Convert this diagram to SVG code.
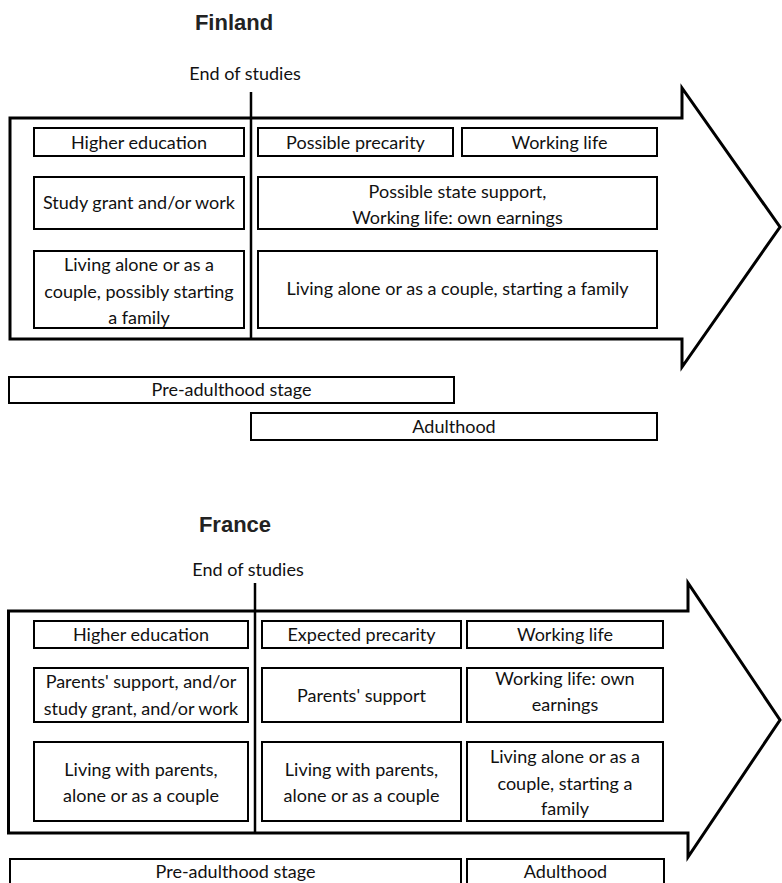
<svg xmlns="http://www.w3.org/2000/svg" width="782" height="883" viewBox="0 0 782 883">
<style>
.bg{fill:#fff}
.arrow{fill:#fff;stroke:#000;stroke-width:3;stroke-linejoin:miter}
.div{stroke:#000;stroke-width:2.5;fill:none}
.box{fill:#fff;stroke:#000;stroke-width:2}
.t{font-family:Lato,"Liberation Sans",sans-serif;font-size:18px;fill:#111;text-anchor:middle}
.h{font-family:"Liberation Sans",Arial,sans-serif;font-weight:bold;font-size:22px;fill:#222;text-anchor:middle}
</style>
<rect class="bg" x="0" y="0" width="782" height="883"/>

<!-- Finland -->
<text id="fi-title" class="h" x="234" y="30">Finland</text>
<g id="fi-arrow"><polygon class="arrow" points="10,118 682,118 682,88 780,227 682,367 682,339 10,339"/></g>
<g id="fi-end"><text class="t" x="245" y="80">End of studies</text></g>
<g id="fi-he"><rect class="box" x="34" y="128" width="210" height="28"/><text class="t" x="139" y="149">Higher education</text></g>
<g id="fi-pp"><rect class="box" x="258" y="128" width="195" height="28"/><text class="t" x="355.5" y="149">Possible precarity</text></g>
<g id="fi-wl"><rect class="box" x="462" y="128" width="195" height="28"/><text class="t" x="559.5" y="149">Working life</text></g>
<g id="fi-sg"><rect class="box" x="34" y="177" width="210" height="52"/><text class="t" x="139" y="209">Study grant and/or work</text></g>
<g id="fi-ss"><rect class="box" x="258" y="177" width="399" height="52"/><text class="t" x="457.5" y="198">Possible state support,</text><text class="t" x="457.5" y="224">Working life: own earnings</text></g>
<g id="fi-la"><rect class="box" x="34" y="251" width="210" height="77"/><text class="t" x="139" y="271">Living alone or as a</text><text class="t" x="139" y="298">couple, possibly starting</text><text class="t" x="139" y="324">a family</text></g>
<g id="fi-lf"><rect class="box" x="258" y="251" width="399" height="77"/><text class="t" x="457.5" y="295">Living alone or as a couple, starting a family</text></g>
<g id="fi-pre"><rect class="box" x="9" y="377" width="445" height="26"/><text class="t" x="231.5" y="396">Pre-adulthood stage</text></g>
<g id="fi-ad"><rect class="box" x="251" y="413" width="406" height="27"/><text class="t" x="454" y="433">Adulthood</text></g>

<!-- France -->
<text id="fr-title" class="h" x="235" y="532">France</text>
<g id="fr-arrow"><polygon class="arrow" points="8.5,611 688,611 688,583 780,720 688,857 688,833 8.5,833"/></g>
<g id="fr-end"><text class="t" x="248" y="576">End of studies</text></g>
<g id="fr-he"><rect class="box" x="34" y="621" width="214" height="27"/><text class="t" x="141" y="641">Higher education</text></g>
<g id="fr-ep"><rect class="box" x="262" y="621" width="199" height="27"/><text class="t" x="361.5" y="641">Expected precarity</text></g>
<g id="fr-wl"><rect class="box" x="467" y="621" width="196" height="27"/><text class="t" x="565" y="641">Working life</text></g>
<g id="fr-ps1"><rect class="box" x="34" y="668" width="214" height="54"/><text class="t" x="141" y="688">Parents' support, and/or</text><text class="t" x="141" y="715">study grant, and/or work</text></g>
<g id="fr-ps2"><rect class="box" x="262" y="668" width="199" height="54"/><text class="t" x="361.5" y="702">Parents' support</text></g>
<g id="fr-oe"><rect class="box" x="467" y="668" width="196" height="54"/><text class="t" x="565" y="685">Working life: own</text><text class="t" x="565" y="711">earnings</text></g>
<g id="fr-lw1"><rect class="box" x="34" y="742" width="214" height="79"/><text class="t" x="141" y="776">Living with parents,</text><text class="t" x="141" y="802">alone or as a couple</text></g>
<g id="fr-lw2"><rect class="box" x="262" y="742" width="199" height="79"/><text class="t" x="361.5" y="776">Living with parents,</text><text class="t" x="361.5" y="802">alone or as a couple</text></g>
<g id="fr-lf"><rect class="box" x="467" y="742" width="196" height="79"/><text class="t" x="565" y="763">Living alone or as a</text><text class="t" x="565" y="790">couple, starting a</text><text class="t" x="565" y="815">family</text></g>
<g id="fr-pre"><rect class="box" x="10" y="859" width="451" height="40"/><text class="t" x="235.5" y="878">Pre-adulthood stage</text></g>
<g id="fr-ad"><rect class="box" x="467" y="859" width="197" height="40"/><text class="t" x="565.5" y="878">Adulthood</text></g>

<g id="connectors">
<line class="div" x1="251" y1="92" x2="251" y2="339"/>
<line class="div" x1="255" y1="583" x2="255" y2="833"/>
</g>
</svg>
